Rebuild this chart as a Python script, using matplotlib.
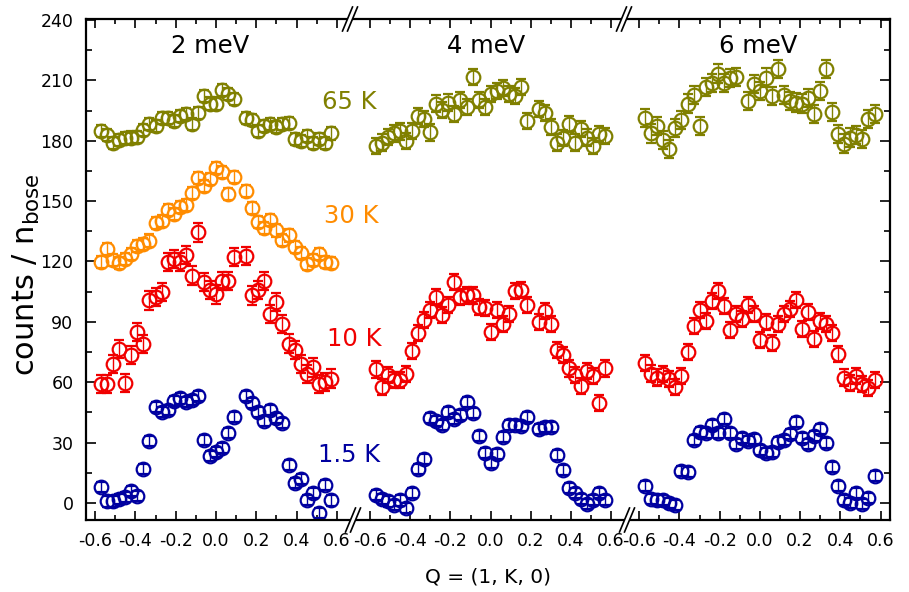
import matplotlib
matplotlib.use('Agg')
import matplotlib.pyplot as plt
from matplotlib.lines import Line2D
from matplotlib.patches import Polygon
from matplotlib.ticker import MultipleLocator

# Q = (1, K, 0) positions for each energy transfer
q_2mev = [-0.57, -0.54, -0.51, -0.48, -0.45, -0.42, -0.39, -0.36, -0.33, -0.30,
          -0.27, -0.24, -0.21, -0.18, -0.15, -0.12, -0.09, -0.06, -0.03, 0.00,
          0.03, 0.06, 0.09, 0.15, 0.18, 0.21, 0.24, 0.27, 0.30, 0.33,
          0.36, 0.39, 0.42, 0.45, 0.48, 0.51, 0.54, 0.57]
q_4mev = [-0.57, -0.54, -0.51, -0.48, -0.45, -0.42, -0.39, -0.36, -0.33, -0.30,
          -0.27, -0.24, -0.21, -0.18, -0.15, -0.12, -0.09, -0.06, -0.03, 0.00,
          0.03, 0.06, 0.09, 0.12, 0.15, 0.18, 0.24, 0.27, 0.30, 0.33,
          0.36, 0.39, 0.42, 0.45, 0.48, 0.51, 0.54, 0.57]
q_6mev = [-0.57, -0.54, -0.51, -0.48, -0.45, -0.42, -0.39, -0.36, -0.33, -0.30,
          -0.27, -0.24, -0.21, -0.18, -0.15, -0.12, -0.09, -0.06, -0.03, 0.00,
          0.03, 0.06, 0.09, 0.12, 0.15, 0.18, 0.21, 0.24, 0.27, 0.30,
          0.33, 0.36, 0.39, 0.42, 0.45, 0.48, 0.51, 0.54, 0.57]
q_6mev_65k = [q for q in q_6mev if q != -0.09]

# counts / n_bose, 2 meV
c65_2 = [184.9, 183.0, 179.0, 180.3, 181.3, 181.6, 182.0, 185.3, 188.2, 187.4,
         191.2, 191.2, 189.9, 192.4, 193.2, 188.5, 194.0, 202.3, 198.5, 198.5,
         205.1, 203.1, 200.6, 191.2, 190.2, 184.9, 187.4, 188.2, 186.9, 188.5,
         189.0, 180.8, 180.0, 182.5, 179.1, 180.8, 179.1, 183.6]
c30_2 = [119.6, 126.3, 120.5, 119.1, 121.3, 123.8, 127.9, 128.7, 130.4, 139.0,
         140.3, 145.6, 143.6, 146.9, 148.2, 153.8, 161.5, 157.7, 161.0, 166.4,
         164.3, 153.5, 161.8, 154.8, 146.6, 139.5, 136.7, 140.7, 135.4, 130.7,
         132.9, 127.1, 124.1, 118.8, 120.5, 123.5, 119.6, 119.1]
c10_2 = [59.3, 59.3, 69.2, 76.7, 59.7, 73.4, 84.9, 78.8, 100.6, 102.3,
         104.8, 119.7, 121.3, 119.7, 123.4, 113.0, 134.4, 109.7, 105.9, 103.6,
         110.2, 110.2, 122.1, 122.5, 103.1, 105.6, 110.2, 94.0, 99.8, 89.1,
         79.2, 76.2, 69.2, 64.0, 67.3, 59.3, 60.2, 61.8]
c15_2 = [8.1, 0.7, 0.7, 1.8, 3.1, 6.1, 3.5, 16.7, 30.9, 47.8,
         45.3, 46.4, 50.7, 51.9, 50.2, 51.1, 53.0, 31.2, 23.3, 25.4,
         27.1, 34.9, 42.5, 53.0, 49.7, 45.3, 40.8, 46.4, 42.0, 39.5,
         18.8, 9.7, 11.7, 1.5, 4.8, -5.1, 8.9, 1.2]

# 4 meV
c65_4 = [177.5, 179.1, 182.0, 183.6, 184.6, 180.0, 184.9, 192.4, 190.7, 184.1,
         198.5, 195.2, 199.0, 193.5, 200.1, 196.8, 211.7, 200.1, 196.8, 203.1,
         204.8, 206.1, 203.1, 202.3, 206.7, 189.6, 195.7, 194.0, 186.6, 179.1,
         181.3, 188.2, 179.1, 185.8, 181.6, 177.5, 183.3, 182.4]
c10_4 = [66.3, 57.7, 63.5, 61.0, 61.3, 64.0, 75.5, 84.5, 90.7, 95.7,
         102.3, 93.2, 98.2, 109.7, 102.3, 103.1, 103.1, 97.3, 97.0, 84.9,
         96.0, 89.1, 93.7, 105.3, 105.6, 98.2, 89.9, 95.4, 89.1, 76.2,
         73.4, 66.8, 63.5, 58.0, 65.6, 63.0, 49.7, 66.8]
c15_4 = [4.0, 1.8, 0.7, -1.0, 1.2, -2.6, 4.8, 16.7, 21.7, 42.0,
         40.8, 38.7, 45.3, 41.5, 43.6, 50.2, 44.5, 33.2, 25.0, 20.0,
         24.3, 32.9, 38.7, 38.7, 38.2, 42.8, 36.5, 37.8, 37.8, 23.8,
         16.4, 7.3, 4.8, 1.8, -0.5, 1.5, 4.8, 1.5]

# 6 meV
c65_6 = [191.2, 183.6, 187.4, 180.3, 175.8, 186.2, 190.2, 198.5, 202.8, 187.4,
         206.7, 208.9, 213.4, 208.9, 211.0, 211.7, 199.8, 208.4, 204.8, 211.4,
         202.3, 215.5, 202.8, 199.8, 199.0, 198.5, 201.1, 193.2, 204.8, 215.5,
         194.5, 183.3, 178.6, 181.6, 182.9, 180.8, 190.7, 193.2]
c10_6 = [69.6, 64.3, 62.3, 64.0, 61.8, 57.7, 63.0, 75.0, 87.8, 95.7,
         90.4, 100.3, 105.3, 97.7, 85.8, 94.0, 91.6, 98.2, 93.7, 81.1,
         89.9, 79.5, 89.1, 94.0, 96.5, 101.0, 86.6, 94.9, 81.6, 90.4,
         88.7, 84.5, 73.9, 62.3, 59.7, 63.0, 59.0, 56.9, 61.3]
c15_6 = [8.4, 1.8, 1.2, 1.5, -0.2, -1.0, 16.0, 15.5, 31.2, 35.4,
         34.9, 38.7, 34.9, 41.5, 34.9, 29.3, 32.1, 30.9, 31.6, 26.3,
         24.9, 25.4, 30.4, 31.2, 34.2, 40.3, 32.1, 29.3, 33.2, 36.5,
         29.9, 18.0, 8.4, 1.5, -0.2, 5.1, -0.5, 2.3, 13.4]

# typical error bar per temperature for each energy
err_65k = [3.0, 4.0, 4.5]
err_30k = [3.0]
err_10k = [4.5, 4.0, 4.0]
err_15k = [2.5, 2.5, 2.5]

energies = ['2 meV', '4 meV', '6 meV']
temps = ['65 K', '30 K', '10 K', '1.5 K']
colors = {'65 K': '#808000', '30 K': '#ff8c00', '10 K': '#f00000', '1.5 K': '#0000a0'}

panels = [
    [('65 K', q_2mev, c65_2, err_65k[0]), ('30 K', q_2mev, c30_2, err_30k[0]),
     ('10 K', q_2mev, c10_2, err_10k[0]), ('1.5 K', q_2mev, c15_2, err_15k[0])],
    [('65 K', q_4mev, c65_4, err_65k[1]), ('10 K', q_4mev, c10_4, err_10k[1]),
     ('1.5 K', q_4mev, c15_4, err_15k[1])],
    [('65 K', q_6mev_65k, c65_6, err_65k[2]), ('10 K', q_6mev, c10_6, err_10k[2]),
     ('1.5 K', q_6mev, c15_6, err_15k[2])],
]

W, H = 909, 592
fig = plt.figure(figsize=(W / 100, H / 100), dpi=100)


def fpos(x, y):
    # pixel position (origin top-left) -> figure fraction
    return x / W, 1 - y / H


top, bottom = 19, 520
edges = [86, 352, 626, 890]
xlims = [(-0.645, 0.675), (-0.690, 0.674), (-0.666, 0.647)]
title_x = [-0.03, -0.02, -0.01]

axes = []
for i in range(3):
    l, b = fpos(edges[i], bottom)
    w = (edges[i + 1] - edges[i]) / W
    h = (bottom - top) / H
    ax = fig.add_axes([l, b, w, h])
    ax.patch.set_visible(False)
    ax.set_xlim(*xlims[i])
    ax.set_ylim(-8.5, 240.5)
    for name, q, c, e in panels[i]:
        ax.errorbar(q, c, yerr=e, fmt='o', ms=9.8, mfc='none', mew=1.6,
                    color=colors[name], ecolor=colors[name], elinewidth=1,
                    capsize=3.6, capthick=1)
    ax.xaxis.set_minor_locator(MultipleLocator(0.1))
    ax.yaxis.set_major_locator(MultipleLocator(30))
    ax.yaxis.set_minor_locator(MultipleLocator(15))
    ax.set_xticks([-0.6, -0.4, -0.2, 0.0, 0.2, 0.4, 0.6])
    ax.set_xticklabels(['-0.6', '-0.4', '-0.2', '0.0', '0.2', '0.4', '0.6'])
    ax.tick_params(axis='x', which='both', direction='in', top=True, bottom=True,
                   labelsize=12.5, pad=9)
    ax.tick_params(axis='x', which='major', length=6.5, width=1.2)
    ax.tick_params(axis='x', which='minor', length=3.8, width=1.2)
    ax.tick_params(axis='y', which='both', direction='in', left=(i == 0),
                   right=(i == 2), labelleft=(i == 0), labelright=False,
                   labelsize=12.5, pad=9)
    ax.tick_params(axis='y', which='major', length=7, width=1.2)
    ax.tick_params(axis='y', which='minor', length=4, width=1.2)
    for s in ax.spines.values():
        s.set_linewidth(1.6)
    if i > 0:
        ax.spines['left'].set_visible(False)
    if i < 2:
        ax.spines['right'].set_visible(False)
    ax.text(title_x[i], 227, energies[i], ha='center', va='center', fontsize=17.5)
    axes.append(ax)

# temperature labels next to the 2 meV curves
label_pos = {'65 K': (0.527, 199.3), '30 K': (0.537, 142.8),
             '10 K': (0.551, 81.3), '1.5 K': (0.507, 23.8)}
for t in temps:
    x, y = label_pos[t]
    fig.text(x, y, t, color=colors[t], fontsize=17.5, ha='left', va='center',
             transform=axes[0].transData)


def axis_break(xc, yc):
    # white gap in the spine with two slanted strokes
    pts = [fpos(xc - 7.5, yc + 12), fpos(xc + 2.5, yc - 12),
           fpos(xc + 7.5, yc - 12), fpos(xc - 2.5, yc + 12)]
    fig.add_artist(Polygon(pts, closed=True, facecolor='white', edgecolor='none'))
    for dx in (-2.5, 2.5):
        x0, y0 = fpos(xc + dx - 5, yc + 12)
        x1, y1 = fpos(xc + dx + 5, yc - 12)
        fig.add_artist(Line2D([x0, x1], [y0, y1], color='black', lw=1.2))


for xb in edges[1:3]:
    axis_break(xb - 2, top)
    axis_break(xb + 1, bottom)

fig.text(*fpos(26, 275), r'counts / n$_{\mathregular{bose}}$', rotation=90,
         ha='center', va='center', fontsize=22)
fig.text(*fpos(488, 577), 'Q = (1, K, 0)', ha='center', va='center', fontsize=14.5)

fig.savefig('out.png', dpi=100)
